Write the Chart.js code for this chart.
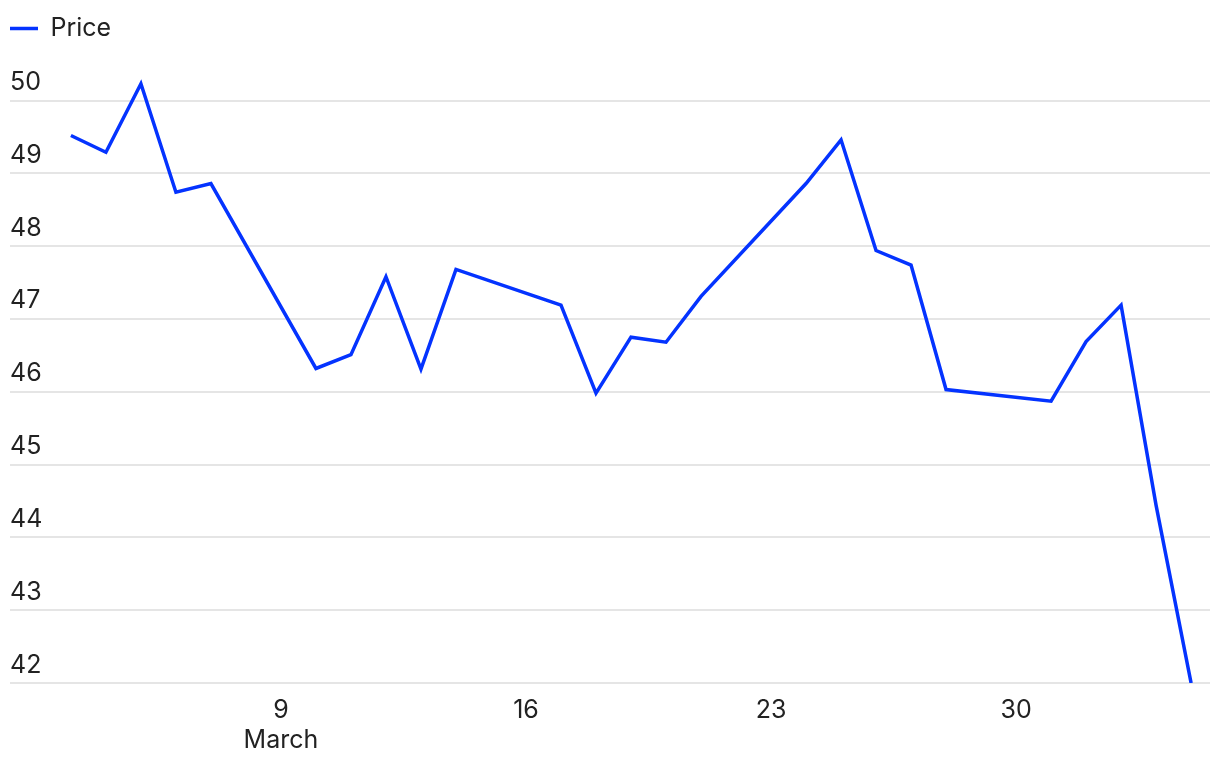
<!DOCTYPE html>
<html>
<head>
<meta charset="utf-8">
<script src="https://cdn.jsdelivr.net/npm/chart.js@4.4.1/dist/chart.umd.min.js"></script>
<style>
  html, body { margin: 0; padding: 0; background: #fff; }
  #wrap { width: 1220px; height: 762px; }
</style>
</head>
<body>
<div id="wrap"><canvas id="priceChart"></canvas></div>
<script>
// trading days, March - April 2025
const dates = [
  '2025-03-03', '2025-03-04', '2025-03-05', '2025-03-06', '2025-03-07',
  '2025-03-10', '2025-03-11', '2025-03-12', '2025-03-13', '2025-03-14',
  '2025-03-17', '2025-03-18', '2025-03-19', '2025-03-20', '2025-03-21',
  '2025-03-24', '2025-03-25', '2025-03-26', '2025-03-27', '2025-03-28',
  '2025-03-31', '2025-04-01', '2025-04-02', '2025-04-03', '2025-04-04'
];
const prices = [
  49.52, 49.29, 50.23, 48.74, 48.86,
  46.32, 46.51, 47.58, 46.31, 47.68,
  47.19, 45.98, 46.75, 46.68, 47.31,
  48.86, 49.46, 47.94, 47.74, 46.03,
  45.87, 46.69, 47.19, 44.44, 42.0
];
const xTicks = [9, 16, 23, 30];        // day of March
const xTickLabels = [['9', 'March'], '16', '23', '30'];
const yTicks = [42, 43, 44, 45, 46, 47, 48, 49, 50];

// day number counted from 1 March (1 April = 32)
const base = Date.UTC(2025, 2, 0);
const dayNum = d => (Date.parse(d + 'T00:00:00Z') - base) / 86400000;
const points = dates.map((d, i) => ({ x: dayNum(d), y: prices[i] }));

const blue = '#0433ff';
const fontFam = 'Inter, "Liberation Sans", sans-serif';

const ctx = document.getElementById('priceChart').getContext('2d');
const priceChart = new Chart(ctx, {
    type: 'line',
    data: {
        datasets: [{
            label: 'Price',
            data: points,
            borderColor: blue,
            backgroundColor: blue,
            borderWidth: 3.5,
            pointRadius: 0,
            tension: 0,
            fill: false
        }]
    },
    options: {
        responsive: true,
        maintainAspectRatio: false,
        animation: false,
        layout: {
            padding: { left: 10, right: 10, top: 16, bottom: 0 }
        },
        scales: {
            x: {
                type: 'linear',
                min: 1.26,
                max: 35.54,
                afterBuildTicks: axis => {
                    axis.ticks = xTicks.map(v => ({ value: v }));
                },
                afterFit: axis => { axis.height = 79; },
                grid: { display: false, drawTicks: false },
                border: { display: false },
                ticks: {
                    padding: 12,
                    color: '#222',
                    font: { family: fontFam, size: 25, lineHeight: 1.2 },
                    callback: (v) => xTickLabels[xTicks.indexOf(v)]
                }
            },
            y: {
                min: 42,
                max: 50.68,
                afterBuildTicks: axis => {
                    axis.ticks = yTicks.map(v => ({ value: v }));
                },
                grid: { color: '#e5e5e5', lineWidth: 2, drawTicks: false },
                border: { display: false },
                ticks: {
                    mirror: true,
                    padding: 0,
                    labelOffset: -18,
                    color: '#222',
                    font: { family: fontFam, size: 25 }
                }
            }
        },
        plugins: {
            legend: {
                display: true,
                align: 'start',
                labels: {
                    usePointStyle: true,
                    pointStyle: 'line',
                    pointStyleWidth: 28,
                    padding: 0,
                    color: '#222',
                    font: { family: fontFam, size: 25 }
                }
            },
            tooltip: { enabled: false }
        }
    }
});
</script>
</body>
</html>
